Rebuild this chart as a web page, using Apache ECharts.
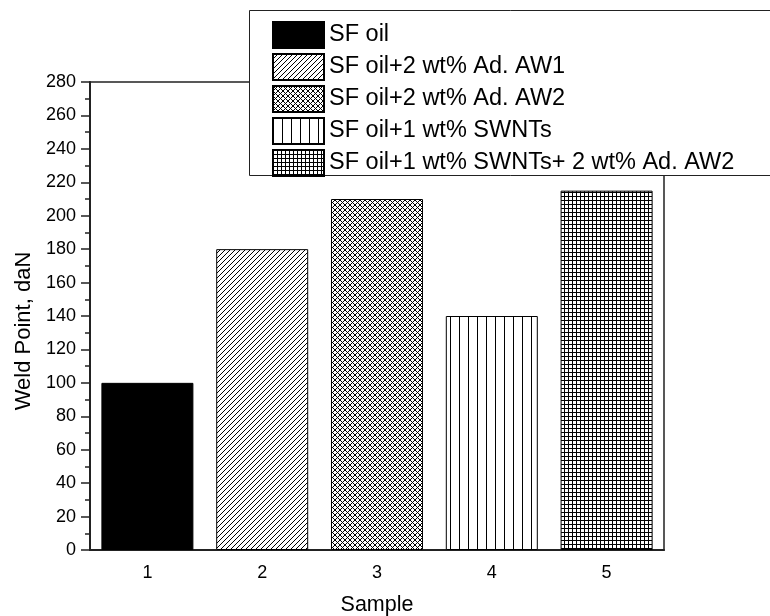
<!DOCTYPE html>
<html>
<head>
<meta charset="utf-8">
<script src="https://cdn.jsdelivr.net/npm/echarts@6/dist/echarts.min.js"></script>
<style>
html,body{margin:0;padding:0;background:#fff;}
#chart{width:770px;height:616px;}
</style>
</head>
<body>
<div id="chart"></div>
<script>
// ---- data ----
const categories = ['1', '2', '3', '4', '5'];
const seriesNames = [
  'SF oil',
  'SF oil+2 wt% Ad. AW1',
  'SF oil+2 wt% Ad. AW2',
  'SF oil+1 wt% SWNTs',
  'SF oil+1 wt% SWNTs+ 2 wt% Ad. AW2'
];
const weldPoint = [100, 180, 210, 140, 215];
const yMin = 0, yMax = 280, yStep = 20;

// ---- patterns ----
function makeTile(size, draw) {
  const c = document.createElement('canvas');
  c.width = size; c.height = size;
  const ctx = c.getContext('2d');
  ctx.fillStyle = '#fff';
  ctx.fillRect(0, 0, size, size);
  ctx.strokeStyle = '#000';
  ctx.fillStyle = '#000';
  ctx.lineWidth = 1;
  draw(ctx, size);
  return { image: c, repeat: 'repeat' };
}
function slash(ctx, s) {
  ctx.beginPath();
  ctx.moveTo(-1, s + 1); ctx.lineTo(s + 1, -1);
  ctx.moveTo(-1, 1); ctx.lineTo(1, -1);
  ctx.moveTo(s - 1, s + 1); ctx.lineTo(s + 1, s - 1);
  ctx.stroke();
}
function backslash(ctx, s) {
  ctx.beginPath();
  ctx.moveTo(-1, -1); ctx.lineTo(s + 1, s + 1);
  ctx.moveTo(s - 1, -1); ctx.lineTo(s + 1, 1);
  ctx.moveTo(-1, s - 1); ctx.lineTo(1, s + 1);
  ctx.stroke();
}
const fills = [
  '#000',
  makeTile(5, slash),
  makeTile(5, function (ctx, s) { slash(ctx, s); backslash(ctx, s); }),
  makeTile(9, function (ctx, s) { ctx.fillRect(0, 0, 1, s); }),
  makeTile(4, function (ctx, s) { ctx.fillRect(0, 0, 1, s); ctx.fillRect(0, 0, s, 1); })
];

const FONT = 'Liberation Sans, Arial, Helvetica, sans-serif';

const series = seriesNames.map(function (name, i) {
  return {
    name: name,
    type: 'bar',
    xAxisIndex: 0,
    barWidth: 92,
    barGap: '-100%',
    data: [[categories[i], weldPoint[i]]],
    itemStyle: { color: fills[i], borderColor: '#000', borderWidth: 1 }
  };
});

const chart = echarts.init(document.getElementById('chart'), null, { renderer: 'canvas' });
chart.setOption({
  animation: false,
  grid: {
    left: 90, right: 106, top: 82, bottom: 66,
    outerBoundsMode: 'none',
    containLabel: false,
    show: true, borderColor: '#222', borderWidth: 1.5, backgroundColor: 'transparent'
  },
  graphic: [{
    type: 'rect',
    z: 5,
    shape: { x: 249.5, y: 10.5, width: 600, height: 165 },
    style: { fill: '#fff', stroke: '#222', lineWidth: 1 }
  }],
  legend: {
    z: 10,
    orient: 'vertical',
    left: 272, top: 21,
    padding: 0,
    itemWidth: 51, itemHeight: 26, itemGap: 4,
    icon: 'rect',
    data: seriesNames,
    selectedMode: false,
    textStyle: { fontFamily: FONT, fontSize: 23.5, color: '#000' }
  },
  xAxis: [{
    type: 'category',
    data: categories,
    position: 'bottom',
    boundaryGap: true,
    name: 'Sample',
    nameLocation: 'middle',
    nameGap: 44,
    nameTextStyle: { fontFamily: FONT, fontSize: 21.5, color: '#000' },
    axisLine: { lineStyle: { color: '#222', width: 2 } },
    axisTick: { alignWithLabel: true, length: 9, lineStyle: { color: '#222', width: 1.5 } },
    axisLabel: { margin: 14, fontFamily: FONT, fontSize: 18, color: '#000' },
    splitLine: { show: false }
  }, {
    type: 'category',
    data: categories,
    position: 'bottom',
    boundaryGap: true,
    axisLine: { show: false },
    axisTick: { alignWithLabel: false, length: 4, lineStyle: { color: '#222', width: 1.5 } },
    axisLabel: { show: false },
    splitLine: { show: false }
  }],
  yAxis: {
    type: 'value',
    min: yMin, max: yMax, interval: yStep,
    name: 'Weld Point, daN',
    nameLocation: 'middle',
    nameGap: 54,
    nameTextStyle: { fontFamily: FONT, fontSize: 22, color: '#000', padding: [0, 30, 0, 0] },
    axisLine: { show: true, lineStyle: { color: '#222', width: 2 } },
    axisTick: { show: true, length: 9, lineStyle: { color: '#222', width: 1.5 } },
    minorTick: { show: true, splitNumber: 2, length: 5, lineStyle: { color: '#222', width: 1.5 } },
    axisLabel: { margin: 14, fontFamily: FONT, fontSize: 18, color: '#000' },
    splitLine: { show: false },
    minorSplitLine: { show: false }
  },
  series: series
});
</script>
</body>
</html>
